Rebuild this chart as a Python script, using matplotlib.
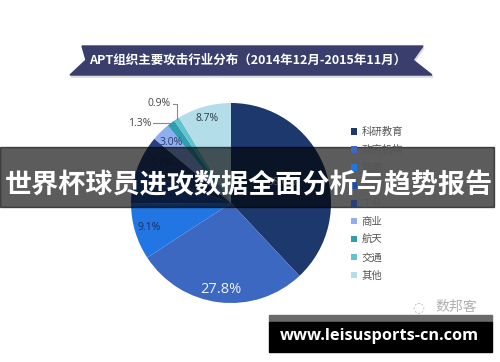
import matplotlib.pyplot as plt
from matplotlib.patches import Polygon, Rectangle
import numpy as np

plt.rcParams['font.family'] = ['Noto Sans CJK SC', 'DejaVu Sans']

# data (4th category is hidden under the banner)
categories = ['科研教育', '政府机构', '能源', '金融', '工业', '商业', '航天', '交通', '其他']
values = [38.0, 27.8, 9.1, 5.5, 5.7, 3.0, 1.3, 0.9, 8.7]
labels = ['38.0%', '27.8%', '9.1%', '', '5.7%', '3.0%', '1.3%', '0.9%', '8.7%']
colors = ['#1d386c', '#3d68c2', '#2276e4', '#1f4da6', '#26407c',
          '#8eaef0', '#2f9fb0', '#62c3cf', '#b3dde8']
label_r = [0.55, 0.87, 0.86, 0.8, 0.8, 0.85, 0, 0, 0.88]
label_col = ['#c9d3e6', '#eef2fa', '#1d2f5c', '#1d2f5c', '#1d2f5c',
             '#2b3a66', '#444444', '#444444', '#2d3a4a']
title = 'APT组织主要攻击行业分布（2014年12月-2015年11月）'
banner = '世界杯球员进攻数据全面分析与趋势报告'
site = 'www.leisusports-cn.com'

W, H = 500, 362
fig = plt.figure(figsize=(W / 100, H / 100), dpi=100)


def fx(px):
    return px / W


def fy(py):
    return 1 - py / H


# pie: centre (231,203) px, radius 100 px
ax = fig.add_axes([fx(106), fy(328), 250 / W, 250 / H])
wedges, _ = ax.pie(values, colors=colors, startangle=90, counterclock=False,
                   wedgeprops=dict(linewidth=0))
ax.set_xlim(-1.25, 1.25)
ax.set_ylim(-1.25, 1.25)
ax.set_aspect('equal')

for i, w in enumerate(wedges):
    if not labels[i]:
        continue
    th = np.deg2rad((w.theta1 + w.theta2) / 2)
    ex, ey = np.cos(th), np.sin(th)
    if label_r[i] > 0:
        fs = 10.5 if i == 1 else 7.5
        ax.text(label_r[i] * ex, label_r[i] * ey, labels[i], ha='center', va='center',
                fontsize=fs, color=label_col[i], family='Open Sans')

# outside labels with leader lines (航天, 交通)
th = np.deg2rad((wedges[6].theta1 + wedges[6].theta2) / 2)
ex, ey = np.cos(th), np.sin(th)
ax.plot([-0.78, ex], [ey, ey], color='#8a8a8a', lw=0.8)
ax.text(-0.8, ey, labels[6], ha='right', va='center', fontsize=7.5,
        color='#444444', family='Open Sans')
th = np.deg2rad((wedges[7].theta1 + wedges[7].theta2) / 2)
ex, ey = np.cos(th), np.sin(th)
ax.plot([-0.58, ex, ex], [0.99, 0.99, ey], color='#8a8a8a', lw=0.8)
ax.text(-0.6, 0.99, labels[7], ha='right', va='center', fontsize=7.5,
        color='#444444', family='Open Sans')

# legend
leg = fig.legend(wedges, categories, loc='upper left', bbox_to_anchor=(fx(351), fy(127)),
                 frameon=False, fontsize=7.5, handlelength=0.6, handleheight=0.6,
                 handletextpad=0.4, labelspacing=0.76, borderpad=0, borderaxespad=0)
for t in leg.get_texts():
    t.set_color('#555555')

# title ribbon
rib = [(82, 46), (423, 46), (413, 60), (432, 75), (70, 75), (86, 60)]
shadow = [(x + 1, y + 2) for x, y in rib]
fig.patches.append(Polygon([(fx(x), fy(y)) for x, y in shadow], closed=True,
                           transform=fig.transFigure, color='#d8d8de', zorder=1))
fig.patches.append(Polygon([(fx(x), fy(y)) for x, y in rib], closed=True,
                           transform=fig.transFigure, color='#3a3e6c', zorder=2))
fig.text(fx(248), fy(60), title, ha='center', va='center', color='white',
         fontsize=9, fontweight='bold', zorder=3)

# overlay banner
fig.patches.append(Rectangle((0, fy(207)), fx(494), (207 - 147) / H,
                             transform=fig.transFigure, color='black', alpha=0.64, zorder=5))
fig.text(fx(249), fy(185), banner, ha='center', va='center', color='white',
         fontsize=19.5, fontweight='bold', zorder=6)

# wechat mark
fig.text(fx(456), fy(307), '数邦客', ha='center', va='center', color='#b0b0b0',
         fontsize=10, zorder=3)
fig.text(fx(418), fy(307), '◌', ha='center', va='center', color='#b8b8b8',
         fontsize=10, family='DejaVu Sans', zorder=3)

# site watermark
fig.patches.append(Rectangle((fx(269), fy(322)), fx(492) - fx(269), (322 - 315) / H,
                             transform=fig.transFigure, color='#6a6a6a', zorder=5))
fig.patches.append(Rectangle((fx(269), fy(352)), fx(492) - fx(269), (352 - 322) / H,
                             transform=fig.transFigure, color='black', zorder=5))
fig.text(fx(379), fy(336), site, ha='center', va='center', color='white',
         fontsize=11.8, fontweight='bold', family='Open Sans', zorder=6)

fig.savefig('out.png', dpi=100)
